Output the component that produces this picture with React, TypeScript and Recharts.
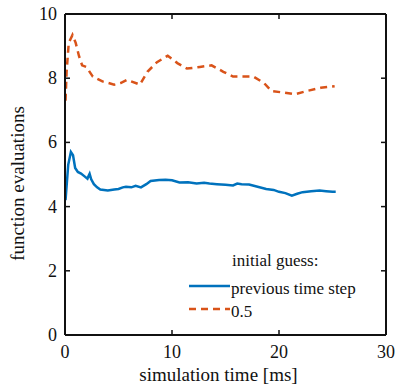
import { LineChart, Line, XAxis, YAxis, ReferenceLine, CartesianGrid } from 'recharts'

// simulation time [ms] and function evaluations
const prevStepTime = [
  0.05, 0.3, 0.55, 0.75, 0.95, 1.2, 1.5, 1.8, 2.1, 2.2, 2.3, 2.45, 2.7, 3.0, 3.3, 4.0,
  4.6, 5.0, 5.4, 5.7, 6.2, 6.6, 7.1, 7.6, 8.0, 8.8, 9.4, 10.0, 10.7, 11.5, 12.3, 13.0,
  13.5, 14.2, 15.0, 15.7, 16.1, 16.5, 17.2, 18.0, 18.8, 19.5, 20.0, 20.6, 21.2, 21.7,
  22.2, 23.0, 23.8, 24.4, 25.0, 25.3,
]
const prevStepEvals = [
  4.2, 5.3, 5.7, 5.6, 5.2, 5.08, 5.03, 4.95, 4.87, 4.95, 5.02, 4.85, 4.7, 4.6, 4.53, 4.5,
  4.53, 4.55, 4.6, 4.62, 4.6, 4.65, 4.6, 4.7, 4.8, 4.83, 4.84, 4.82, 4.75, 4.76, 4.72, 4.74,
  4.72, 4.7, 4.68, 4.66, 4.72, 4.7, 4.69, 4.62, 4.55, 4.52, 4.46, 4.42, 4.34, 4.4,
  4.45, 4.48, 4.5, 4.48, 4.46, 4.46,
]

const halfTime = [
  0.05, 0.15, 0.35, 0.7, 1.0, 1.3, 1.6, 2.0, 2.6, 3.5, 4.6, 5.2, 5.8, 7.0, 7.7, 8.6,
  9.6, 10.5, 11.4, 12.6, 13.7, 14.8, 15.7, 16.8, 17.6, 18.6, 19.3, 20.5, 21.5, 22.6,
  23.9, 25.2,
]
const halfEvals = [
  7.3, 8.2, 9.1, 9.35, 9.1, 8.7, 8.4, 8.35, 8.05, 7.9, 7.8, 7.85, 7.95, 7.8, 8.2, 8.5,
  8.7, 8.47, 8.3, 8.35, 8.4, 8.2, 8.05, 8.05, 8.05, 7.85, 7.6, 7.55, 7.5, 7.6,
  7.7, 7.75,
]

const xTicks = [0, 10, 20, 30]
const yTicks = [0, 2, 4, 6, 8, 10]
const seriesNames = ['previous time step', '0.5']
const legendTitle = 'initial guess:'
const xLabel = 'simulation time [ms]'
const yLabel = 'function evaluations'

const prevData = prevStepTime.map((t, i) => ({ t, v: prevStepEvals[i] }))
const halfData = halfTime.map((t, i) => ({ t, v: halfEvals[i] }))

const X_MAX = xTicks[xTicks.length - 1]
const Y_MAX = yTicks[yTicks.length - 1]
const innerX = xTicks.slice(1, -1)
const innerY = yTicks.slice(1, -1)

const FONT = "'Liberation Serif', 'Times New Roman', serif"
const INK = '#111'
const BLUE = '#0072BD'
const ORANGE = '#D95319'
const DASH = '7 5'
const txt = { fontFamily: FONT }

const legendItems = [
  { name: seriesNames[0], color: BLUE, dash: undefined },
  { name: seriesNames[1], color: ORANGE, dash: DASH },
]

function BottomTick({ x, y, payload }: any) {
  return (
    <g>
      <line x1={x} x2={x} y1={y} y2={y - 5} stroke={INK} strokeWidth={1.5} />
      <text x={x} y={y + 23} textAnchor="middle" style={txt} fontSize={18} fill={INK}>
        {payload.value}
      </text>
    </g>
  )
}

function LeftTick({ x, y, payload }: any) {
  return (
    <g>
      <line x1={x} x2={x + 5} y1={y} y2={y} stroke={INK} strokeWidth={1.5} />
      <text x={x - 8} y={y + 6} textAnchor="end" style={txt} fontSize={18} fill={INK}>
        {payload.value}
      </text>
    </g>
  )
}

// short inward tick at the top end of a vertical reference line
function TopTickShape(p: any) {
  const top = Math.min(p.y1, p.y2)
  return <line x1={p.x1} x2={p.x1} y1={top} y2={top + 5} stroke={INK} strokeWidth={1.5} />
}

// short inward tick at the right end of a horizontal reference line
function RightTickShape(p: any) {
  const right = Math.max(p.x1, p.x2)
  return <line x1={right} x2={right - 5} y1={p.y1} y2={p.y1} stroke={INK} strokeWidth={1.5} />
}

export default function App() {
  return (
    <div style={{ position: 'absolute', left: 0, top: 0 }}>
      <LineChart width={396} height={391} margin={{ top: 14, right: 10, bottom: 0, left: 0 }}>
        <CartesianGrid
          horizontalValues={[Y_MAX]}
          verticalValues={[X_MAX]}
          stroke={INK}
          strokeWidth={2}
        />
        <XAxis
          dataKey="t"
          type="number"
          domain={[0, X_MAX]}
          ticks={xTicks}
          height={56}
          tickSize={0}
          tickMargin={0}
          tickLine={false}
          axisLine={{ stroke: INK, strokeWidth: 2 }}
          tick={<BottomTick />}
          label={{
            content: ({ viewBox }: any) => (
              <text
                x={viewBox.x + viewBox.width / 2 - 7}
                y={viewBox.y + 46}
                textAnchor="middle"
                style={txt}
                fontSize={19}
                fill={INK}
              >
                {xLabel}
              </text>
            ),
          }}
        />
        <YAxis
          type="number"
          domain={[0, Y_MAX]}
          ticks={yTicks}
          width={65}
          tickSize={0}
          tickMargin={0}
          tickLine={false}
          axisLine={{ stroke: INK, strokeWidth: 2 }}
          tick={<LeftTick />}
          label={{
            content: ({ viewBox }: any) => {
              const cx = 24
              const cy = viewBox.y + viewBox.height / 2 + 9
              return (
                <text
                  x={cx}
                  y={cy}
                  transform={`rotate(-90 ${cx} ${cy})`}
                  textAnchor="middle"
                  style={txt}
                  fontSize={19}
                  fill={INK}
                >
                  {yLabel}
                </text>
              )
            },
          }}
        />
        {innerX.map((v) => (
          <ReferenceLine key={'tx' + v} x={v} shape={TopTickShape} />
        ))}
        {innerY.map((v) => (
          <ReferenceLine key={'ty' + v} y={v} shape={RightTickShape} />
        ))}
        <Line
          data={prevData}
          dataKey="v"
          name={seriesNames[0]}
          type="linear"
          stroke={BLUE}
          strokeWidth={2.5}
          dot={false}
          isAnimationActive={false}
        />
        <Line
          data={halfData}
          dataKey="v"
          name={seriesNames[1]}
          type="linear"
          stroke={ORANGE}
          strokeWidth={2.5}
          strokeDasharray={DASH}
          dot={false}
          isAnimationActive={false}
        />
        {/* legend, drawn inside the chart surface */}
        <g transform="translate(189, 248)">
          <text x={43} y={18} style={txt} fontSize={17} fill={INK}>
            {legendTitle}
          </text>
          {legendItems.map((it, i) => (
            <g key={it.name}>
              <line
                x1={0}
                x2={41}
                y1={38 + i * 23}
                y2={38 + i * 23}
                stroke={it.color}
                strokeWidth={2.5}
                strokeDasharray={it.dash}
              />
              <text x={42} y={45.5 + i * 23} style={txt} fontSize={17} fill={INK}>
                {it.name}
              </text>
            </g>
          ))}
        </g>
      </LineChart>
    </div>
  )
}
